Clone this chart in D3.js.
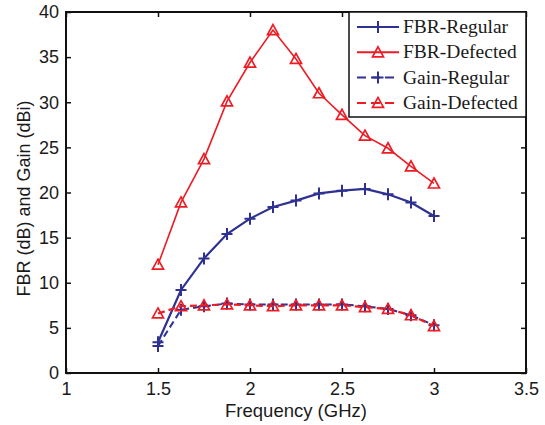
<!DOCTYPE html>
<html><head><meta charset="utf-8">
<script src="https://cdn.jsdelivr.net/npm/d3@7/dist/d3.min.js"></script>
<style>
html,body{margin:0;padding:0;background:#fff;}
svg{display:block;}
</style></head>
<body>
<svg id="chart" width="545" height="425"></svg>
<script>
const freq = [1.5,1.625,1.75,1.875,2.0,2.125,2.25,2.375,2.5,2.625,2.75,2.875,3.0];
const fbrRegular = [3.4,9.2,12.7,15.4,17.1,18.4,19.1,19.9,20.2,20.4,19.8,18.9,17.4];
const fbrDefected = [12.0,18.9,23.7,30.1,34.4,38.0,34.8,31.0,28.6,26.3,24.9,22.9,21.0];
const gainRegular = [3.0,7.0,7.4,7.7,7.6,7.6,7.6,7.6,7.6,7.4,7.1,6.4,5.3];
const gainDefected = [6.6,7.4,7.5,7.6,7.5,7.4,7.5,7.5,7.5,7.3,7.1,6.4,5.2];
const xTicks = [1,1.5,2,2.5,3,3.5];
const yTicks = [0,5,10,15,20,25,30,35,40];
const seriesNames = ["FBR-Regular","FBR-Defected","Gain-Regular","Gain-Defected"];
const xLabel = "Frequency (GHz)";
const yLabel = "FBR (dB) and Gain (dBi)";

const BLUE = "#2e3192", RED = "#ed1c24";
const series = [
  {name: seriesNames[0], values: fbrRegular, color: BLUE, dash: null, marker: "plus", width: 2.2},
  {name: seriesNames[1], values: fbrDefected, color: RED, dash: null, marker: "tri", width: 1.6},
  {name: seriesNames[2], values: gainRegular, color: BLUE, dash: "7,4", marker: "plus", width: 2},
  {name: seriesNames[3], values: gainDefected, color: RED, dash: "7,4", marker: "tri", width: 2.2}
];

const L = 66, R = 526, T = 12, B = 373;
const svg = d3.select("#chart");
const x = d3.scaleLinear().domain([1,3.5]).range([L,R]);
const y = d3.scaleLinear().domain([0,40]).range([B,T]);

const sansFont = "Arial, 'Liberation Sans', Helvetica, sans-serif";
const serifFont = "'Times New Roman', 'Liberation Serif', serif";

const tl = 5;
const gx = svg.append("g").attr("transform", `translate(0,${B})`)
  .call(d3.axisBottom(x).tickValues(xTicks).tickFormat(d3.format("~g")).tickSizeInner(-tl).tickSizeOuter(0).tickPadding(9));
const gxt = svg.append("g").attr("transform", `translate(0,${T})`)
  .call(d3.axisTop(x).tickValues(xTicks).tickFormat("").tickSizeInner(-tl).tickSizeOuter(0));
const gy = svg.append("g").attr("transform", `translate(${L},0)`)
  .call(d3.axisLeft(y).tickValues(yTicks).tickFormat(d3.format("~g")).tickSizeInner(-tl).tickSizeOuter(0).tickPadding(7));
const gyr = svg.append("g").attr("transform", `translate(${R},0)`)
  .call(d3.axisRight(y).tickValues(yTicks).tickFormat("").tickSizeInner(-tl).tickSizeOuter(0));
[gx,gxt,gy,gyr].forEach(g=>{
  g.select(".domain").remove();
  g.selectAll(".tick line").attr("stroke","#111").attr("stroke-width",1.5);
  g.selectAll(".tick text").attr("fill","#1a1a1a").style("font-family",sansFont).style("font-size","18px");
});
svg.append("rect").attr("x",L).attr("y",T).attr("width",R-L).attr("height",B-T)
  .attr("fill","none").attr("stroke","#111").attr("stroke-width",2);

const line = d3.line().x((d,i)=>x(freq[i])).y(d=>y(d));
function drawMarker(g, type, cx, cy, color){
  if(type==="plus"){
    g.append("path").attr("d",`M${cx-5.5},${cy}H${cx+5.5}M${cx},${cy-6}V${cy+6}`)
      .attr("stroke",color).attr("stroke-width",2).attr("fill","none");
  } else {
    g.append("path").attr("d",`M${cx},${cy-5.5}L${cx+5.5},${cy+4.5}L${cx-5.5},${cy+4.5}Z`)
      .attr("stroke",color).attr("stroke-width",1.7).attr("fill","none");
  }
}
const plot = svg.append("g");
series.forEach(s=>{
  const g = plot.append("g");
  g.append("path").datum(s.values).attr("d",line).attr("fill","none")
    .attr("stroke",s.color).attr("stroke-width",s.width)
    .attr("stroke-dasharray",s.dash);
  s.values.forEach((v,i)=>drawMarker(g, s.marker, x(freq[i]), y(v), s.color));
});

svg.append("text").attr("x",(L+R)/2).attr("y",417).attr("text-anchor","middle")
  .style("font-family",sansFont).style("font-size","18.5px").attr("fill","#1a1a1a").text(xLabel);
svg.append("text").attr("transform",`translate(30,${(T+B)/2+6}) rotate(-90)`).attr("text-anchor","middle")
  .style("font-family",sansFont).style("font-size","18px").attr("fill","#1a1a1a").text(yLabel);

const lg = svg.append("g");
lg.append("rect").attr("x",349).attr("y",T).attr("width",R-349).attr("height",105)
  .attr("fill","#fff").attr("stroke","#111").attr("stroke-width",1.5);
series.forEach((s,i)=>{
  const ly = 27 + i*25.3;
  lg.append("line").attr("x1",357).attr("x2",399).attr("y1",ly).attr("y2",ly)
    .attr("stroke",s.color).attr("stroke-width",2).attr("stroke-dasharray",s.dash?"9,5":null);
  drawMarker(lg, s.marker, 378, ly, s.color);
  lg.append("text").attr("x",403).attr("y",ly+6).style("font-family",serifFont)
    .style("font-size","19.5px").attr("fill","#1a1a1a").text(s.name);
});
</script>
</body></html>
